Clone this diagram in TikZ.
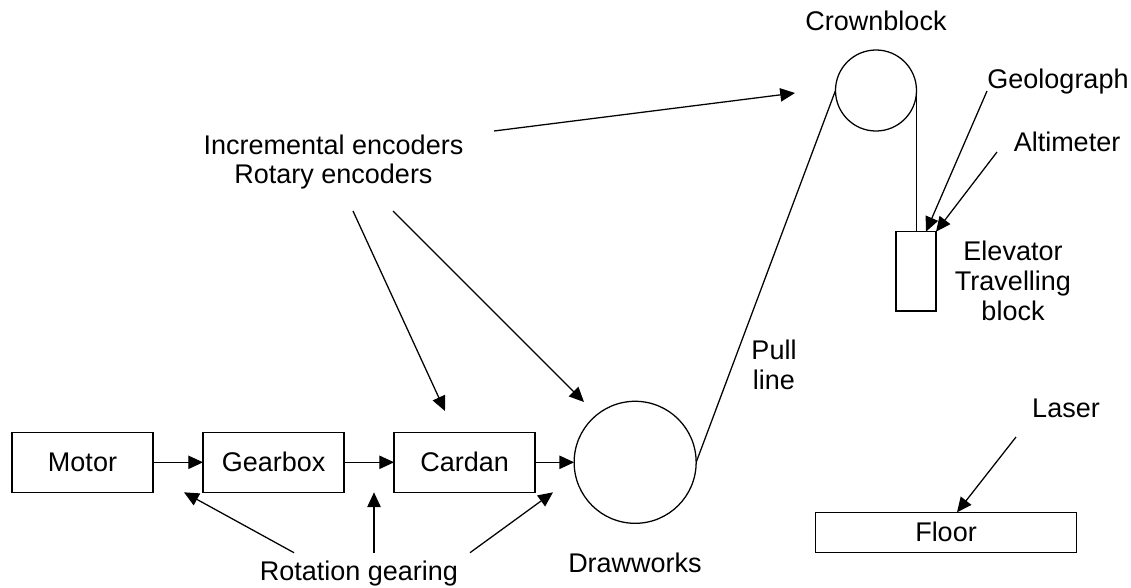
\documentclass[tikz,border=0pt]{standalone}
\usepackage{fontspec}
\setmainfont{Liberation Sans}
\usetikzlibrary{positioning,arrows.meta,calc}

\tikzset{
  blk/.style={draw, line width=.9pt, minimum width=3.525cm, minimum height=1.5cm, inner sep=0pt, outer sep=0pt},
  pulley/.style={draw, circle, line width=.9pt, inner sep=0pt, outer sep=0pt},
  lbl/.style={inner sep=0pt, align=center},
  feed/.style={line width=.9pt, -{Triangle[length=10.5pt,width=9.5pt]}},
  rope/.style={line width=.9pt},
}

\begin{document}
\begin{tikzpicture}[x=.025cm, y=-.025cm, font=\fontsize{19.2}{21.3}\selectfont]
\useasboundingbox (0,0) rectangle (1131,587);

% drive train along the floor
\node[blk] (motor) at (82.5,462.3) {Motor};
\node[blk, right=1.25cm of motor] (gearbox) {Gearbox};
\node[blk, right=1.25cm of gearbox] (cardan) {Cardan};
\node[pulley, minimum size=3.05cm, right=.975cm of cardan] (drum) {};

% hoisting side
\node[pulley, minimum size=2.025cm] (crown) at (876,90.5) {};
\node[blk, minimum width=1cm, minimum height=1.98cm] (elev) at (916,271.3) {};
\node[blk, minimum width=6.525cm, minimum height=1cm] (floor) at (946,532.3) {Floor};

% labels
\node[lbl] (drawworks) at (635,562.6) {Drawworks};
\node[lbl] (crownlbl) at (876,20.5) {Crownblock};
\node[lbl] (geo) at (1058,82) {Geolograph};
\node[lbl] (alt) at (1067,141.6) {Altimeter};
\node[lbl] (travel) at (1013,280.6) {Elevator\\Travelling\\block};
\node[lbl] (enc) at (333.5,162) {Incremental encoders\\Rotary encoders};
\node[lbl] (pull) at (774,365) {Pull\\line};
\node[lbl] (laser) at (1066,408) {Laser};
\node[lbl] (gearing) at (359,573.3) {Rotation gearing};

% free ends of the pointers
\coordinate (enc-c) at (494,131);   \coordinate (enc-ct) at (795,93);
\coordinate (enc-a) at (353,211);   \coordinate (enc-at) at (445,411);
\coordinate (enc-b) at (393,211);   \coordinate (enc-bt) at (584,402);
\coordinate (geo-s) at (987,91);    \coordinate (geo-t) at ($(elev.north)!.5!(elev.north east)$);
\coordinate (alt-s) at (997,152);
\coordinate (laser-s) at (1016,437); \coordinate (laser-t) at (957,512.3);
\coordinate (rg-a) at (294,552.7);  \coordinate (rg-at) at (184,492.3);
\coordinate (rg-b) at (374,552.7);  \coordinate (rg-bt) at (374,492.3);
\coordinate (rg-c) at (470,552.7);  \coordinate (rg-ct) at (553,492.3);

\draw[feed] (motor) -- (gearbox);
\draw[feed] (gearbox) -- (cardan);
\draw[feed] (cardan) -- (drum);

% wire line
\draw[rope] (drum.east) -- (crown.west);
\draw[rope] (crown.east) -- (crown.east |- elev.north);

\draw[feed] (enc-c) -- (enc-ct);
\draw[feed] (enc-a) -- (enc-at);
\draw[feed] (enc-b) -- (enc-bt);
\draw[feed] (geo-s) -- (geo-t);
\draw[feed] (alt-s) -- (elev.north east);
\draw[feed] (laser-s) -- (laser-t);
\draw[feed] (rg-a) -- (rg-at);
\draw[feed] (rg-b) -- (rg-bt);
\draw[feed] (rg-c) -- (rg-ct);
\end{tikzpicture}
\end{document}
